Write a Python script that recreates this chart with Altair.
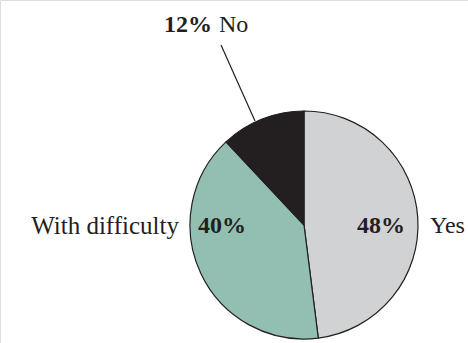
import altair as alt
import pandas as pd

# Survey answers and their shares (percent)
answers = ["Yes", "With difficulty", "No"]
shares = [48, 40, 12]
colors = ["#d1d2d4", "#93bfb3", "#231f20"]

W, H = 468, 343
CX, CY, R = 304, 225, 114
FONT = "Liberation Serif"

df = pd.DataFrame({"answer": answers, "share": shares, "rank": list(range(len(answers)))})

pie = alt.Chart(df).mark_arc(stroke="#231f20", strokeWidth=1.2, radius=R).encode(
    theta=alt.Theta("share:Q", stack=True),
    order=alt.Order("rank:Q"),
    color=alt.Color("answer:N", scale=alt.Scale(domain=answers, range=colors), legend=None),
    x=alt.value(CX),
    y=alt.value(CY),
)

pct = {a: f"{s}%" for a, s in zip(answers, shares)}


def label(text, x, y, bold=False, align="left", size=24):
    return alt.Chart(pd.DataFrame({"t": [text]})).mark_text(
        font=FONT, fontSize=size, fontWeight="bold" if bold else "normal",
        color="#231f20", align=align, baseline="middle",
    ).encode(text="t:N", x=alt.value(x), y=alt.value(y))


labels = [
    label(pct["Yes"], 405, 226, bold=True, align="right"),
    label("Yes", 430, 226),
    label(pct["With difficulty"], 198, 226, bold=True),
    label("With difficulty", 179, 226, align="right", size=25),
    label(pct["No"], 212, 25, bold=True, align="right"),
    label("No", 219, 25),
]

leader = alt.Chart(pd.DataFrame({"k": [0]})).mark_rule(color="#231f20", strokeWidth=1.2).encode(
    x=alt.value(221), y=alt.value(45), x2=alt.value(255), y2=alt.value(121)
)

chart = alt.layer(pie, leader, *labels).properties(
    width=W, height=H, padding=0, autosize=alt.AutoSizeParams(type="none")
).configure_view(stroke=None).configure(background="white")

chart.save("out.html", embed_options={"renderer": "svg", "actions": False})
